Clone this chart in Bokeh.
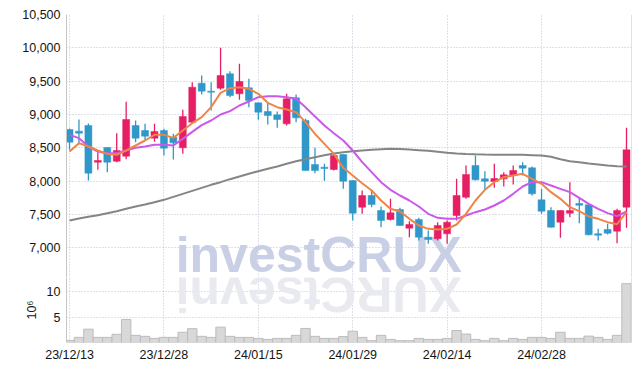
import math
from bokeh.plotting import figure
from bokeh.layouts import column
from bokeh.models import ColumnDataSource, Range1d, FixedTicker, NumeralTickFormatter, Label, Span
from bokeh.embed import file_html
from bokeh.resources import INLINE

dates = ["23/12/13", "23/12/14", "23/12/15", "23/12/18", "23/12/19", "23/12/20", "23/12/21", "23/12/22",
         "23/12/26", "23/12/27", "23/12/28", "24/01/02", "24/01/03", "24/01/04", "24/01/05", "24/01/08",
         "24/01/09", "24/01/10", "24/01/11", "24/01/12", "24/01/15", "24/01/16", "24/01/17", "24/01/18",
         "24/01/19", "24/01/22", "24/01/23", "24/01/24", "24/01/25", "24/01/26", "24/01/29", "24/01/30",
         "24/01/31", "24/02/01", "24/02/02", "24/02/05", "24/02/06", "24/02/07", "24/02/08", "24/02/13",
         "24/02/14", "24/02/15", "24/02/16", "24/02/19", "24/02/20", "24/02/21", "24/02/22", "24/02/23",
         "24/02/26", "24/02/27", "24/02/28", "24/02/29", "24/03/04", "24/03/05", "24/03/06", "24/03/07",
         "24/03/08", "24/03/11", "24/03/12", "24/03/13"]

opens = [8775, 8750, 8835, 8285, 8505, 8300, 8375, 8835, 8760, 8645,
         8760, 8660, 8500, 8885, 9470, 9350, 9395, 9610, 9310, 9400,
         9175, 9045, 8995, 8860, 9250, 8910, 8250, 8210, 8175, 8400,
         8010, 7610, 7785, 7560, 7425, 7575, 7295, 7425, 7160, 7135,
         7210, 7485, 7760, 8235, 8035, 7995, 8035, 8085, 8235, 8200,
         7720, 7560, 7385, 7520, 7665, 7645, 7210, 7275, 7250, 7610]
highs = [8790, 8925, 8865, 8435, 8510, 8720, 9190, 8910, 8860, 8860,
         8785, 8710, 9070, 9485, 9585, 9485, 10000, 9650, 9760, 9535,
         9180, 9185, 9045, 9310, 9300, 8935, 8500, 8260, 8410, 8405,
         8010, 7860, 7870, 7620, 7735, 7600, 7400, 7450, 7260, 7385,
         7410, 8035, 8235, 8385, 8150, 8260, 8135, 8235, 8285, 8220,
         7885, 7610, 7560, 7985, 7750, 7650, 7285, 7360, 7585, 8800]
lows = [8470, 8570, 8010, 8170, 8135, 8285, 8330, 8585, 8610, 8590,
        8385, 8325, 8410, 8860, 9300, 9060, 9370, 9260, 9220, 9110,
        8920, 8850, 8800, 8835, 8885, 8160, 8120, 8005, 8160, 7885,
        7410, 7510, 7610, 7310, 7410, 7330, 7160, 7110, 7060, 7110,
        7060, 7410, 7735, 8010, 7870, 7900, 7920, 7950, 8085, 7785,
        7510, 7305, 7150, 7460, 7370, 7190, 7110, 7200, 7070, 7300]
closes = [8585, 8720, 8120, 8310, 8285, 8460, 8925, 8645, 8675, 8745,
          8495, 8575, 8970, 9410, 9350, 9335, 9585, 9285, 9495, 9210,
          9035, 8985, 8925, 9235, 8950, 8160, 8160, 8190, 8385, 8000,
          7520, 7785, 7650, 7410, 7525, 7335, 7350, 7160, 7125, 7335,
          7385, 7785, 8100, 8020, 8000, 8040, 8095, 8160, 8195, 7810,
          7550, 7310, 7560, 7560, 7640, 7195, 7190, 7220, 7560, 8470]

ma_short = [8445, 8570, 8520, 8460, 8410, 8395, 8460, 8535, 8610, 8695,
            8695, 8650, 8760, 8870, 8960, 9110, 9325, 9395, 9410, 9385,
            9310, 9175, 9110, 9075, 9035, 8885, 8710, 8560, 8410, 8200,
            8085, 7970, 7860, 7710, 7585, 7545, 7435, 7335, 7285, 7275,
            7285, 7350, 7510, 7710, 7870, 7985, 8060, 8085, 8110, 8035,
            7960, 7835, 7735, 7610, 7550, 7470, 7435, 7385, 7355, 7535]
ma_mid = [8695, 8645, 8520, 8445, 8420, 8420, 8460, 8500, 8520, 8545,
          8545, 8535, 8635, 8740, 8840, 8910, 9000, 9050, 9135, 9195,
          9260, 9275, 9275, 9260, 9235, 9110, 8970, 8835, 8720, 8610,
          8460, 8285, 8135, 7985, 7870, 7785, 7710, 7620, 7510, 7450,
          7435, 7435, 7485, 7535, 7575, 7635, 7710, 7810, 7920, 7985,
          7985, 7935, 7885, 7835, 7750, 7660, 7585, 7520, 7475, 7545]
ma_long = [7410, 7440, 7465, 7490, 7520, 7550, 7585, 7620, 7650, 7685,
           7720, 7765, 7810, 7855, 7900, 7945, 7985, 8030, 8070, 8110,
           8150, 8185, 8220, 8260, 8300, 8330, 8360, 8390, 8415, 8435,
           8450, 8460, 8470, 8478, 8485, 8482, 8475, 8465, 8455, 8440,
           8425, 8415, 8408, 8403, 8400, 8398, 8396, 8395, 8395, 8390,
           8385, 8365, 8330, 8300, 8285, 8265, 8250, 8235, 8225, 8220]

volume = [0.5, 1.1, 2.7, 1.1, 1.1, 1.7, 4.6, 1.5, 1.3, 0.9,
          1.1, 1.1, 2.1, 2.8, 1.3, 1.1, 3.1, 1.3, 1.1, 1.1,
          0.9, 0.7, 0.9, 0.9, 1.5, 2.85, 1.3, 0.9, 0.9, 1.25,
          2.3, 1.1, 0.45, 1.5, 0.7, 0.45, 0.45, 0.9, 0.7, 0.7,
          0.9, 2.45, 1.75, 0.7, 0.45, 0.9, 0.45, 0.9, 0.7, 1.1,
          1.1, 0.9, 2.1, 0.9, 0.9, 1.35, 1.1, 0.7, 1.5, 11.6]

price_ticks = [7000, 7500, 8000, 8500, 9000, 9500, 10000, 10500]
volume_ticks = [5, 10]
date_tick_idx = [0, 10, 20, 30, 40, 50]

UP = "#e61e64"
DOWN = "#2f97c9"
GRID = "#bcc0d4"
BORDER = "#c6c6c6"
FONT = "Liberation Sans"
TXT = "#141414"

idx = list(range(len(dates)))
src = ColumnDataSource(dict(
    x=idx, high=highs, low=lows,
    top=[max(o, c) for o, c in zip(opens, closes)],
    bottom=[min(o, c) for o, c in zip(opens, closes)],
    color=[UP if c >= o else DOWN for o, c in zip(opens, closes)],
))

xr = Range1d(-0.32, 59.53)


def style_yaxis(ax):
    ax.major_tick_line_color = None
    ax.minor_tick_line_color = None
    ax.major_tick_out = 0
    ax.major_tick_in = 0
    ax.minor_tick_out = 0
    ax.minor_tick_in = 0
    ax.axis_line_color = BORDER
    ax.major_label_standoff = 6
    ax.major_label_text_font = FONT
    ax.major_label_text_font_size = "12.5px"
    ax.major_label_text_color = TXT


p = figure(width=636, height=277, x_range=xr, y_range=Range1d(6555, 10500),
           output_backend="svg", toolbar_location=None, x_axis_location=None,
           min_border_left=66, min_border_right=5, min_border_top=14, min_border_bottom=0)
p.outline_line_color = None
p.yaxis.ticker = FixedTicker(ticks=price_ticks)
p.yaxis.formatter = NumeralTickFormatter(format="0,0")
style_yaxis(p.yaxis[0])
p.xgrid.ticker = FixedTicker(ticks=date_tick_idx)
p.grid.grid_line_color = GRID
p.grid.grid_line_dash = "1 2"
p.grid.grid_line_width = 1

p.add_layout(Label(x=26.4, y=6890, text="investCRUX", text_font=FONT, text_font_size="50px",
                   text_font_style="bold", text_color="#c9cfe5", text_align="center",
                   text_baseline="middle", level="underlay"))

p.segment(x0="x", y0="high", x1="x", y1="low", color="color", line_width=1.3, source=src)
p.vbar(x="x", width=0.74, top="top", bottom="bottom", fill_color="color",
       line_color="color", line_width=0.5, source=src)
p.line(idx, ma_long, color="#858585", line_width=2)
p.line(idx, ma_mid, color="#cc58ea", line_width=2)
p.line(idx, ma_short, color="#ee8448", line_width=2)

p.add_layout(Span(location=59.53, dimension="height", line_color=BORDER, line_width=1))
p.add_layout(Span(location=6555, dimension="width", line_color=BORDER, line_width=1.2))

v = figure(width=636, height=92, x_range=xr, y_range=Range1d(0.1, 12.8),
           output_backend="svg", toolbar_location=None,
           min_border_left=66, min_border_right=5, min_border_top=0, min_border_bottom=27)
v.outline_line_color = None
v.yaxis.ticker = FixedTicker(ticks=volume_ticks)
style_yaxis(v.yaxis[0])
v.yaxis.axis_label = "10\u2076"
v.yaxis.axis_label_text_font = FONT
v.yaxis.axis_label_text_font_size = "12.5px"
v.yaxis.axis_label_text_font_style = "normal"
v.yaxis.axis_label_text_color = TXT
v.yaxis.axis_label_standoff = 5
v.xaxis.ticker = FixedTicker(ticks=date_tick_idx)
v.xaxis.major_label_overrides = {i: dates[i] for i in date_tick_idx}
v.xaxis.major_tick_line_color = None
v.xaxis.minor_tick_line_color = None
v.xaxis.major_tick_out = 0
v.xaxis.major_tick_in = 0
v.xaxis.minor_tick_out = 0
v.xaxis.minor_tick_in = 0
v.xaxis.axis_line_color = None
v.xaxis.major_label_standoff = 5
v.xaxis.major_label_text_font = FONT
v.xaxis.major_label_text_font_size = "12.5px"
v.xaxis.major_label_text_color = TXT
v.xgrid.ticker = FixedTicker(ticks=date_tick_idx)
v.grid.grid_line_color = GRID
v.grid.grid_line_dash = "1 2"

v.add_layout(Label(x=26.4, y=9.5, text="XURCtsevni", angle=math.pi, text_font=FONT,
                   text_font_size="50px", text_font_style="bold", text_color="#e9eaf0",
                   text_align="center", text_baseline="middle", level="underlay"))

v.vbar(x=idx, width=1.0, top=volume, bottom=0, fill_color="#d8d8d8", line_color="#bcbcbc", line_width=1)
v.add_layout(Span(location=59.53, dimension="height", line_color=BORDER, line_width=1))

layout = column(p, v, spacing=0)
open("out.html", "w").write(file_html(layout, INLINE))
